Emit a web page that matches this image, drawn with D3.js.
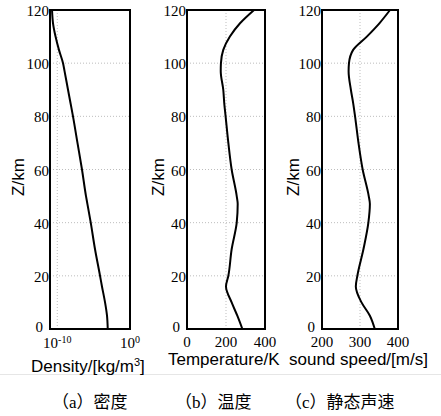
<!DOCTYPE html>
<html><head><meta charset="utf-8">
<script src="https://cdn.jsdelivr.net/npm/d3@7"></script>
<style>
body{margin:0;background:#fff;}
svg{display:block;}
.serif{font-family:'Liberation Serif','DejaVu Serif',serif;}
.sans{font-family:'Liberation Sans',Arial,sans-serif;}
.cap{font-family:'Liberation Serif','Noto Sans CJK SC',serif;}
</style></head>
<body>
<svg id="c" width="441" height="416"></svg>
<script>
// ---- data ----
const altitude = [0,5,10,16,20,30,40,47,50,60,70,80,85,90,97,100,105,110,115,120];
const density = [8.7e-4,6.9e-4,3.7e-4,1.4e-4,7.6e-5,1.55e-5,4.0e-6,1.4e-6,8.9e-7,2.5e-7,6.0e-8,1.45e-8,6.6e-9,3.0e-9,1.0e-9,6.2e-10,1.7e-10,5.8e-11,2.6e-11,1.9e-11];
const temperature = [284,258,229,200,212,229,255,260,255,229,212,198,191,186,173,174,186,220,272,344];
const soundSpeed = [339,326,304,289,293,309,322,326,323,307,296,287,282,276,270,271,282,318,351,379];
const yTicks = [0,20,40,60,80,100,120];
const densityTicks = [1e-10, 1];
const tempTicks = [0,200,400];
const speedTicks = [200,300,400];
const yTitle = "Z/km";
const captions = ["（a）密度","（b）温度","（c）静态声速"];

const svg = d3.select("#c");
const plotTop = 10, plotBottom = 329;
const y = d3.scaleLinear().domain([0,120]).range([plotBottom, plotTop]);

const panels = [
  {x0:50, x1:130, scale:d3.scaleLog().domain([1e-11,1]), vals:density, ticks:densityTicks, log:true,
   title:"Density/[kg/m", sup:"3", titleEnd:"]", tx:31, ty:372, ylx:18, cap:captions[0], cx:52},
  {x0:187, x1:265, scale:d3.scaleLinear().domain([0,400]), vals:temperature, ticks:tempTicks,
   title:"Temperature/K", tx:168, ty:365, ylx:158, cap:captions[1], cx:175},
  {x0:322, x1:398, scale:d3.scaleLinear().domain([200,400]), vals:soundSpeed, ticks:speedTicks,
   title:"sound speed/[m/s]", tx:289, ty:365, ylx:293, cap:captions[2], cx:285}
];

// faint separator line of original image
svg.append("line").attr("x1",0).attr("x2",441).attr("y1",374.5).attr("y2",374.5)
  .attr("stroke","#e6e6e6").attr("stroke-width",1);

panels.forEach(p => {
  const x = p.scale.range([p.x0, p.x1]);
  const g = svg.append("g");
  // grid
  g.selectAll(".hg").data(yTicks.filter(d=>d>0&&d<120)).join("line")
    .attr("x1",p.x0).attr("x2",p.x1).attr("y1",d=>y(d)).attr("y2",d=>y(d))
    .attr("stroke","#bdbdbd").attr("stroke-width",1).attr("stroke-dasharray","1,2");
  g.selectAll(".vg").data(p.ticks.filter(d=>x(d)>p.x0+1 && x(d)<p.x1-1)).join("line")
    .attr("x1",d=>x(d)).attr("x2",d=>x(d)).attr("y1",plotTop).attr("y2",plotBottom)
    .attr("stroke","#bdbdbd").attr("stroke-width",1).attr("stroke-dasharray","1,2");
  // curve
  const line = d3.line().x((d,i)=>x(p.vals[i])).y(d=>y(d)).curve(d3.curveMonotoneY);
  g.append("path").datum(altitude).attr("d",line)
    .attr("fill","none").attr("stroke","#000").attr("stroke-width",2);
  // frame
  g.append("rect").attr("x",p.x0).attr("y",plotTop).attr("width",p.x1-p.x0).attr("height",plotBottom-plotTop)
    .attr("fill","none").attr("stroke","#000").attr("stroke-width",2);
  // y tick labels
  g.selectAll(".yl").data(yTicks).join("text").attr("class","serif")
    .attr("x",d=> d===0 ? p.x0-7 : p.x0-1)
    .attr("y",d=> d===0 ? y(d)+3 : y(d)+6)
    .attr("text-anchor","end")
    .attr("font-size",15)
    .text(d=>d);
  // x tick labels
  const xl = g.selectAll(".xl").data(p.ticks).join("text").attr("class","serif")
    .attr("x",d=>x(d)).attr("y", p.log ? 348 : 347)
    .attr("text-anchor","middle")
    .attr("font-size",15);
  if (p.log) {
    xl.each(function(d){
      const e = Math.round(Math.log10(d));
      const t = d3.select(this);
      t.append("tspan").text("10");
      t.append("tspan").attr("dy",-5).attr("font-size",10).text(e);
    });
  } else {
    xl.text(d=>d);
  }
  // x title
  const tt = svg.append("text").attr("class","sans").attr("x",p.tx).attr("y",p.ty)
    .attr("font-size",17)
    .text(p.title);
  if (p.sup) {
    tt.append("tspan").attr("dy",-6).attr("font-size",11).text(p.sup);
    tt.append("tspan").attr("dy",6).text(p.titleEnd);
  }
  // y title
  svg.append("text").attr("class","sans").attr("transform",`translate(${p.ylx+6},177) rotate(-90)`)
    .attr("text-anchor","middle")
    .attr("font-size",17)
    .text(yTitle);
  // caption
  svg.append("text").attr("class","cap").attr("x",p.cx).attr("y",408)
    .attr("font-size",17)
    .text(p.cap);
});
</script>
</body></html>
